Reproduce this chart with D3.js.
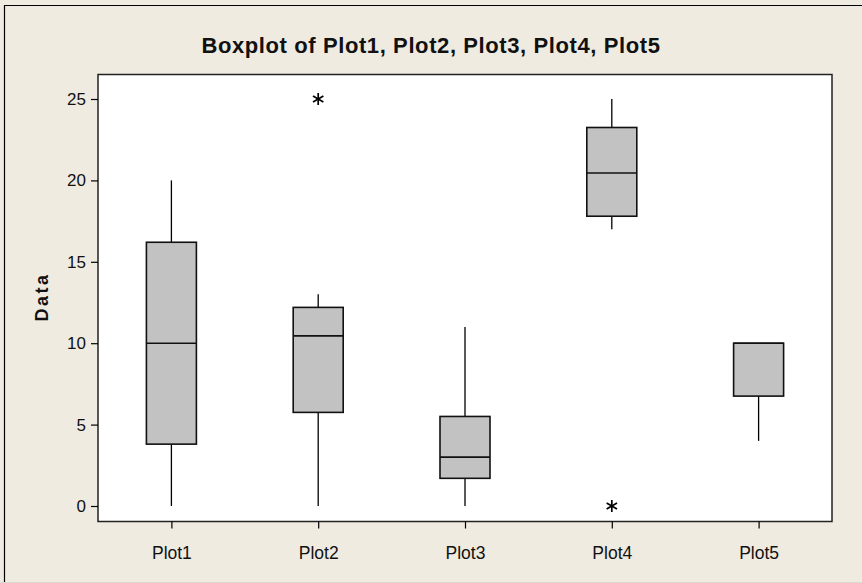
<!DOCTYPE html>
<html><head><meta charset="utf-8">
<script src="https://cdn.jsdelivr.net/npm/d3@7"></script>
<style>
html,body{margin:0;padding:0;background:#efebe1;}
svg{display:block;}
</style></head><body>
<svg id="chart" width="862" height="583"></svg>
<script>
const categories = ["Plot1","Plot2","Plot3","Plot4","Plot5"];
const lowWhisker = [0, 0, 0, 17, 4];
const q1Values = [3.8, 5.75, 1.7, 17.8, 6.75];
const medianValues = [10, 10.45, 3.0, 20.45, 10];
const q3Values = [16.2, 12.2, 5.5, 23.25, 10];
const highWhisker = [20, 13, 11, 25, 10];
const outlierCat = ["Plot2","Plot4"];
const outlierVal = [25, 0];
const yTicks = [0,5,10,15,20,25];

(function(){
const FONT = "Liberation Sans, Arial, sans-serif";
const svg = d3.select("#chart");
const W = 862, H = 583;
const pLeft = 98, pRight = 832, pTop = 74.5, pBottom = 521.5;

svg.append("rect").attr("x",0).attr("y",0).attr("width",W).attr("height",H).attr("fill","#efebe1");
svg.append("path").attr("d",`M4.5,583 V5.5 H862`).attr("fill","none").attr("stroke","#000").attr("stroke-width",1.2);
svg.append("line").attr("x1",0).attr("x2",W).attr("y1",582.5).attr("y2",582.5).attr("stroke","#ddd9cf");

const x = d3.scalePoint().domain(categories).range([pLeft,pRight]).padding(0.5);
const y = d3.scaleLinear().domain([0,25]).range([506,99]);

svg.append("rect").attr("x",pLeft).attr("y",pTop).attr("width",pRight-pLeft).attr("height",pBottom-pTop)
  .attr("fill","#fff").attr("stroke","#222").attr("stroke-width",1.5);

const boxW = 50;
const data = categories.map((c,i)=>({c, lo:lowWhisker[i], q1:q1Values[i], med:medianValues[i], q3:q3Values[i], hi:highWhisker[i]}));
const g = svg.append("g");
data.forEach(d=>{
  const cx = x(d.c);
  g.append("line").attr("x1",cx).attr("x2",cx).attr("y1",y(d.hi)).attr("y2",y(d.q3)).attr("stroke","#000").attr("stroke-width",1.3);
  g.append("line").attr("x1",cx).attr("x2",cx).attr("y1",y(d.q1)).attr("y2",y(d.lo)).attr("stroke","#000").attr("stroke-width",1.3);
  g.append("rect").attr("x",cx-boxW/2).attr("y",y(d.q3)).attr("width",boxW).attr("height",y(d.q1)-y(d.q3))
    .attr("fill","#c2c2c2").attr("stroke","#111").attr("stroke-width",1.6);
  g.append("line").attr("x1",cx-boxW/2).attr("x2",cx+boxW/2).attr("y1",y(d.med)).attr("y2",y(d.med)).attr("stroke","#111").attr("stroke-width",1.6);
});
outlierCat.forEach((c,i)=>{
  const cx = x(c), cy = y(outlierVal[i]);
  const star = g.append("g").attr("transform",`translate(${cx},${cy})`);
  [0,60,120].forEach(a=>{
    const r = a*Math.PI/180, s=6;
    star.append("line").attr("x1",-s*Math.sin(r)).attr("y1",-s*Math.cos(r)).attr("x2",s*Math.sin(r)).attr("y2",s*Math.cos(r))
      .attr("stroke","#000").attr("stroke-width",1.7);
  });
});

const yAxis = d3.axisLeft(y).tickValues(yTicks).tickSize(7).tickPadding(5);
const ya = svg.append("g").attr("transform",`translate(${pLeft},0)`).call(yAxis);
ya.select(".domain").remove();
ya.attr("font-size",null).attr("font-family",null);
ya.selectAll("text").attr("font-size","17px").attr("font-family",FONT).attr("fill","#111");
ya.selectAll("line").attr("stroke","#000").attr("stroke-width",1.2);

const xAxis = d3.axisBottom(x).tickSize(7).tickPadding(18);
const xa = svg.append("g").attr("transform",`translate(0,${pBottom})`).call(xAxis);
xa.select(".domain").remove();
xa.attr("font-size",null).attr("font-family",null);
xa.selectAll("text").attr("font-size","17.5px").attr("font-family",FONT).attr("fill","#111");
xa.selectAll("line").attr("stroke","#000").attr("stroke-width",1.2);

svg.append("text").attr("x",431).attr("y",53).attr("text-anchor","middle")
  .attr("font-family",FONT).attr("font-size","22px").attr("font-weight","bold").attr("letter-spacing","0.6px")
  .attr("fill","#111").text("Boxplot of Plot1, Plot2, Plot3, Plot4, Plot5");
svg.append("text").attr("transform","translate(48,297) rotate(-90)").attr("text-anchor","middle")
  .attr("font-family",FONT).attr("font-size","18px").attr("font-weight","bold").attr("letter-spacing","2.5px")
  .attr("fill","#111").text("Data");
})();
</script>
</body></html>
